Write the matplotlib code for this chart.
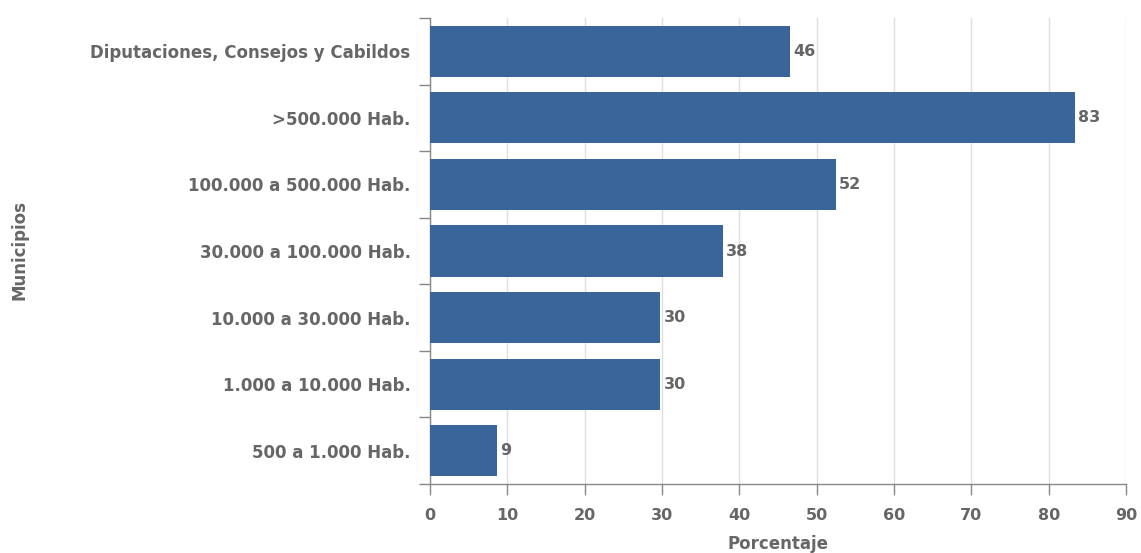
import matplotlib.pyplot as plt

categories = [
    "Diputaciones, Consejos y Cabildos",
    ">500.000 Hab.",
    "100.000 a 500.000 Hab.",
    "30.000 a 100.000 Hab.",
    "10.000 a 30.000 Hab.",
    "1.000 a 10.000 Hab.",
    "500 a 1.000 Hab.",
]
values = [46.6, 83.4, 52.5, 37.9, 29.8, 29.8, 8.7]
value_labels = ["46", "83", "52", "38", "30", "30", "9"]

text_color = "#666666"
bar_color = "#39659a"

plt.rcParams['font.family'] = ['DejaVu Sans']
plt.rcParams['font.weight'] = 'bold'

fig = plt.figure(figsize=(11.41, 5.53), dpi=100)
ax = fig.add_axes([430 / 1141, 1 - 484 / 553, (1126 - 430) / 1141, (484 - 18) / 553])

y_pos = list(range(len(categories)))
ax.barh(y_pos, values, height=0.77, color=bar_color, zorder=3)

for y, v, lab in zip(y_pos, values, value_labels):
    ax.text(v + 0.4, y, lab, va='center', ha='left', color=text_color,
            fontsize=11.5, fontweight='bold', zorder=4)

ax.set_xlim(0, 90)
ax.set_ylim(len(categories) - 0.5, -0.5)
ax.set_xticks(range(0, 91, 10))
ax.set_yticks(y_pos)
ax.set_yticklabels(categories)
ax.set_yticks([i - 0.5 for i in range(len(categories) + 1)], minor=True)
ax.tick_params(axis='y', which='major', length=0, pad=14, labelsize=12, labelcolor=text_color)
ax.tick_params(axis='y', which='minor', length=8, color='#888888', width=1)
ax.tick_params(axis='x', which='major', length=8, color='#888888', width=1, pad=9,
               labelsize=11.5, labelcolor=text_color)

ax.grid(axis='x', color='#e0e0e0', linewidth=1, zorder=0)
for side in ['top', 'right']:
    ax.spines[side].set_visible(False)
for side in ['left', 'bottom']:
    ax.spines[side].set_color('#888888')
    ax.spines[side].set_linewidth(1)

ax.set_xlabel("Porcentaje", color=text_color, fontsize=12, fontweight='bold', labelpad=9)
fig.text(20 / 1141, 1 - 250 / 553, "Municipios", rotation=90, va='center', ha='center',
         color=text_color, fontsize=12, fontweight='bold')

fig.savefig("out.png", dpi=100)
